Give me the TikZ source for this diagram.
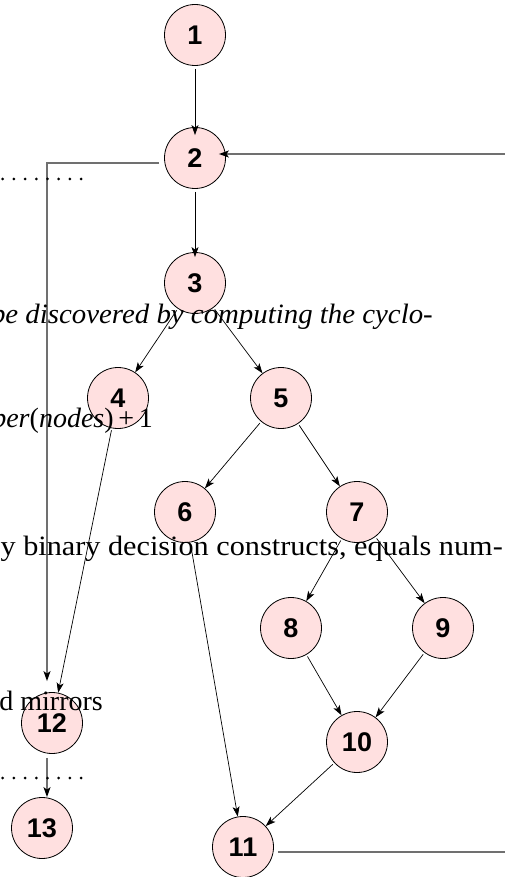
\documentclass[tikz,border=0pt]{standalone}
\usepackage{fontspec}
\setmainfont{Liberation Serif}
\newfontfamily\numfont{Liberation Sans}
\usetikzlibrary{arrows.meta}

\definecolor{nodepink}{RGB}{255,224,224}
\definecolor{loopgray}{RGB}{112,112,112}

\tikzset{
  flownode/.style={circle, draw=black, line width=0.8pt, fill=nodepink,
    minimum size=61pt, inner sep=0pt,
    font=\numfont\bfseries\fontsize{27}{27}\selectfont},
  flowedge/.style={draw=black, line width=0.7pt,
    -{Stealth[length=10pt, width=7pt, inset=2.5pt]}},
  loopedge/.style={draw=loopgray, line width=1.2pt,
    -{Stealth[length=10pt, width=7pt, inset=2.5pt, color=black]}},
  bodytext/.style={inner sep=0pt, font=\fontsize{28}{28}\selectfont}
}

\begin{document}
\begin{tikzpicture}[x=1pt, y=-1pt]
  \useasboundingbox (0,0) rectangle (504,877);

  % control-flow nodes
  \node[flownode] (n1)  at (195,35)  {1};
  \node[flownode] (n2)  at (195,158) {2};
  \node[flownode] (n3)  at (195,283) {3};
  \node[flownode] (n4)  at (118,398) {4};
  \node[flownode] (n5)  at (281,398) {5};
  \node[flownode] (n6)  at (185,512) {6};
  \node[flownode] (n7)  at (357,512) {7};
  \node[flownode] (n8)  at (291,628) {8};
  \node[flownode] (n9)  at (443,628) {9};
  \node[flownode] (n10) at (357,742) {10};
  \node[flownode] (n11) at (243,847) {11};
  \node[flownode] (n12) at (52,723)  {12};
  \node[flownode] (n13) at (42,828)  {13};

  % straight edges
  \draw[flowedge, shorten <=3pt, shorten >=-8pt] (n1) -- (n2);
  \draw[flowedge, shorten <=3pt, shorten >=-5pt] (n2) -- (n3);
  \draw[flowedge, shorten <=2pt] (n3) -- (n4);
  \draw[flowedge, shorten <=2pt] (n3) -- (n5);
  \draw[flowedge, shorten <=2pt] (n5) -- (n6);
  \draw[flowedge, shorten <=2pt] (n5) -- (n7);
  \draw[flowedge, shorten <=2pt] (n7) -- (n8);
  \draw[flowedge, shorten <=2pt] (n7) -- (n9);
  \draw[flowedge, shorten <=2pt] (n8) -- (n10);
  \draw[flowedge, shorten <=2pt] (n9) -- (n10);
  \draw[flowedge, shorten <=2pt] (n10) -- (n11);
  \draw[flowedge, shorten <=2pt] (n6) -- (n11);
  \draw[flowedge, shorten <=2pt] (n4) -- (n12);

  % branch from 2 down to 12 and on to 13
  \coordinate (b2) at ([xshift=-5pt, yshift=-5pt]n2.west);
  \coordinate (b12) at ([xshift=-5pt, yshift=11pt]n12.north);
  \draw[loopedge] (b2) -- (b2 -| b12) -- (b12);
  \coordinate (s12) at ([xshift=-5pt, yshift=-4pt]n12.south);
  \coordinate (e13) at (s12 |- n13.north);
  \draw[loopedge] (s12) -- (e13);

  % loop back from 11 to 2
  \coordinate (far) at (530,0);
  \coordinate (l11) at ([xshift=4pt, yshift=-5pt]n11.east);
  \coordinate (l2) at ([xshift=-7pt, yshift=4pt]n2.east);
  \draw[loopedge] (l11) -- (l11 -| far) -- (l2 -| far) -- (l2);

  % leader dots
  \foreach \dx in {0,...,7} {
    \fill[black] (2.7+11.2*\dx,179) circle[radius=1.5pt];
    \fill[black] (2.7+11.2*\dx,778) circle[radius=1.5pt];
  }

  % running text
  \node[bodytext, anchor=base east, xscale=1.03] (t1) at (433,323)
    {\itshape be discovered by computing the cyclo-};
  \node[bodytext, anchor=base east] (t2) at (153,427)
    {\textit{ber}(\textit{nodes})\,+\,1};
  \node[bodytext, anchor=base east, xscale=1.08] (t3) at (503,555)
    {y binary decision constructs, equals num-};
  \node[bodytext, anchor=base east] (t4) at (103,710)
    {d mirrors};
\end{tikzpicture}
\end{document}
